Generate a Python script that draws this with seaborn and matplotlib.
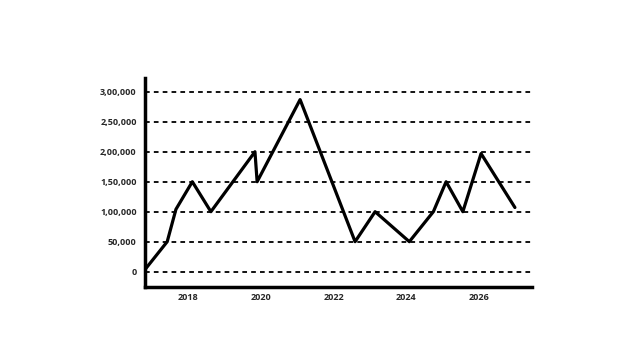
import matplotlib
matplotlib.use("Agg")
import matplotlib.pyplot as plt
import seaborn as sns
import pandas as pd

years = [2016.84, 2017.43, 2017.67, 2018.12, 2018.63, 2019.84, 2019.90, 2021.08,
         2022.59, 2023.14, 2024.08, 2024.74, 2025.09, 2025.55, 2026.05, 2026.98]
values = [5000, 50000, 104000, 150000, 100000, 200000, 150000, 287000,
          50000, 100000, 50000, 100000, 150000, 100000, 197000, 107000]
y_ticks = [0, 50000, 100000, 150000, 200000, 250000, 300000]
y_tick_labels = ["0", "50,000", "1,00,000", "1,50,000", "2,00,000", "2,50,000", "3,00,000"]
x_ticks = [2018, 2020, 2022, 2024, 2026]
x_tick_labels = ["2018", "2020", "2022", "2024", "2026"]

df = pd.DataFrame({"year": years, "value": values})

sns.set_style("white")
plt.rcParams["font.family"] = ["Open Sans", "DejaVu Sans"]

fig = plt.figure(figsize=(6.41, 3.6), dpi=100)
ax = fig.add_axes([0.2262, 0.2028, 0.6038, 0.5805])

for t in y_ticks:
    ax.axhline(t, color="black", lw=1.3, ls=(0, (2.6, 2.3)), zorder=1)

sns.lineplot(data=df, x="year", y="value", ax=ax, color="black", lw=2.3,
             sort=False, estimator=None, zorder=3)

ax.set_xlim(2016.82, 2027.45)
ax.set_ylim(-25600, 323000)
ax.set_xticks(x_ticks)
ax.set_xticklabels(x_tick_labels, fontsize=6.5, fontweight="bold")
ax.set_yticks(y_ticks)
ax.set_yticklabels(y_tick_labels, fontsize=6.5, fontweight="bold")
ax.tick_params(length=0, pad=6)
ax.tick_params(axis="x", pad=4)
ax.set_xlabel("")
ax.set_ylabel("")
for s in ["top", "right"]:
    ax.spines[s].set_visible(False)
for s in ["left", "bottom"]:
    ax.spines[s].set_color("black")
    ax.spines[s].set_linewidth(2.5)
ax.grid(False)

fig.savefig("out.png", dpi=100)
